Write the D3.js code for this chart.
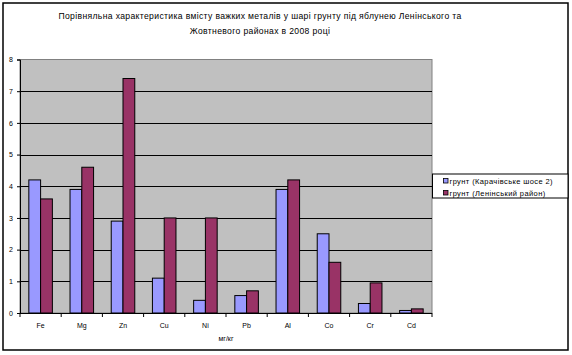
<!DOCTYPE html>
<html>
<head>
<meta charset="utf-8">
<script src="https://cdn.jsdelivr.net/npm/d3@7"></script>
<style>
  body { margin: 0; background: #fff; }
  text { font-family: "Liberation Sans", Arial, sans-serif; fill: #000; }
</style>
</head>
<body>
<svg id="chart"></svg>
<script>
// chart data
const categories = ['Fe', 'Mg', 'Zn', 'Cu', 'Ni', 'Pb', 'Al', 'Co', 'Cr', 'Cd'];
const seriesNames = ['грунт  (Карачівське шосе 2)', 'грунт  (Ленінський район)'];
const karachivske = [4.2, 3.9, 2.9, 1.1, 0.4, 0.55, 3.9, 2.5, 0.3, 0.08];
const leninskyi = [3.6, 4.6, 7.4, 3.0, 3.0, 0.7, 4.2, 1.6, 0.95, 0.13];
const yTicks = [0, 1, 2, 3, 4, 5, 6, 7, 8];
const titleLines = [
  'Порівняльна характеристика вмісту важких металів у шарі грунту під яблунею Ленінського та',
  'Жовтневого районах в 2008 році'
];
const unitLabel = 'мг/кг';

const colors = ['#9999FF', '#993366'];
const width = 572, height = 355;
const plot = { left: 20, top: 59.5, right: 432, bottom: 313 };

const svg = d3.select('#chart').attr('width', width).attr('height', height);

// outer frame
svg.append('rect')
  .attr('x', 3).attr('y', 3).attr('width', 565).attr('height', 347)
  .attr('fill', '#fff').attr('stroke', '#000').attr('stroke-width', 1.5);

// title
svg.append('text')
  .attr('text-anchor', 'middle')
  .attr('font-size', 8.6)
  .attr('letter-spacing', 0.35)
  .selectAll('tspan')
  .data(titleLines)
  .enter()
  .append('tspan')
  .attr('x', 260)
  .attr('y', (d, i) => 19 + i * 15)
  .text(d => d);

const x0 = d3.scaleBand().domain(categories).range([plot.left, plot.right]).padding(0);
const groupW = x0.bandwidth() * 2 / 3.5;
const x1 = d3.scaleBand().domain([0, 1]).range([0, groupW]);
const y = d3.scaleLinear().domain([0, 8]).range([plot.bottom, plot.top]);

// plot area
svg.append('rect')
  .attr('x', plot.left).attr('y', plot.top)
  .attr('width', plot.right - plot.left).attr('height', plot.bottom - plot.top)
  .attr('fill', '#C0C0C0').attr('stroke', '#808080').attr('stroke-width', 1);

// gridlines
svg.append('g')
  .selectAll('line')
  .data(yTicks.filter(t => t > 0 && t < 8))
  .enter()
  .append('line')
  .attr('x1', plot.left).attr('x2', plot.right)
  .attr('y1', d => Math.round(y(d)) + 0.5).attr('y2', d => Math.round(y(d)) + 0.5)
  .attr('stroke', '#000').attr('stroke-width', 1);

// bars
const data = categories.map((c, i) => ({ cat: c, vals: [karachivske[i], leninskyi[i]] }));
svg.append('g')
  .selectAll('g')
  .data(data)
  .enter()
  .append('g')
  .attr('transform', d => `translate(${x0(d.cat) + (x0.bandwidth() - groupW) / 2},0)`)
  .selectAll('rect')
  .data(d => d.vals.map((v, s) => ({ v, s })))
  .enter()
  .append('rect')
  .attr('x', d => x1(d.s))
  .attr('y', d => y(d.v))
  .attr('width', x1.bandwidth())
  .attr('height', d => y(0) - y(d.v))
  .attr('fill', d => colors[d.s])
  .attr('stroke', '#000')
  .attr('stroke-width', 1);

// y axis
const yAxis = d3.axisLeft(y).tickValues(yTicks).tickSize(3).tickPadding(4);
const gy = svg.append('g').attr('transform', `translate(${plot.left},0)`).call(yAxis);
gy.select('.domain').attr('stroke', '#000');
gy.selectAll('.tick line').attr('stroke', '#000');
gy.selectAll('text').attr('font-size', 7).style('font-family', '"Liberation Sans", Arial, sans-serif');

// x axis
svg.append('line')
  .attr('x1', plot.left).attr('x2', plot.right)
  .attr('y1', plot.bottom + 0.5).attr('y2', plot.bottom + 0.5)
  .attr('stroke', '#000');
svg.append('g')
  .selectAll('line')
  .data(categories.map(c => x0(c)).concat([plot.right]))
  .enter()
  .append('line')
  .attr('x1', d => d).attr('x2', d => d)
  .attr('y1', plot.bottom).attr('y2', plot.bottom + 4)
  .attr('stroke', '#000');
svg.append('g')
  .selectAll('text')
  .data(categories)
  .enter()
  .append('text')
  .attr('x', d => x0(d) + x0.bandwidth() / 2)
  .attr('y', 327.5)
  .attr('text-anchor', 'middle')
  .attr('font-size', 7)
  .text(d => d);

svg.append('text')
  .attr('x', (plot.left + plot.right) / 2)
  .attr('y', 340.5)
  .attr('text-anchor', 'middle')
  .attr('font-size', 7)
  .text(unitLabel);

// legend
const legend = svg.append('g');
legend.append('rect')
  .attr('x', 432.5).attr('y', 174).attr('width', 135.5).attr('height', 24)
  .attr('fill', '#fff').attr('stroke', '#000').attr('stroke-width', 1);
const items = legend.selectAll('g.item')
  .data(seriesNames)
  .enter()
  .append('g')
  .attr('class', 'item')
  .attr('transform', (d, i) => `translate(443.5,${178.5 + i * 12})`);
items.append('rect')
  .attr('width', 4.5).attr('height', 4.5)
  .attr('fill', (d, i) => colors[i])
  .attr('stroke', '#000').attr('stroke-width', 0.8);
items.append('text')
  .attr('x', 6)
  .attr('y', 5)
  .attr('font-size', 7.5)
  .attr('letter-spacing', 0.4)
  .text(d => d);
</script>
</body>
</html>
